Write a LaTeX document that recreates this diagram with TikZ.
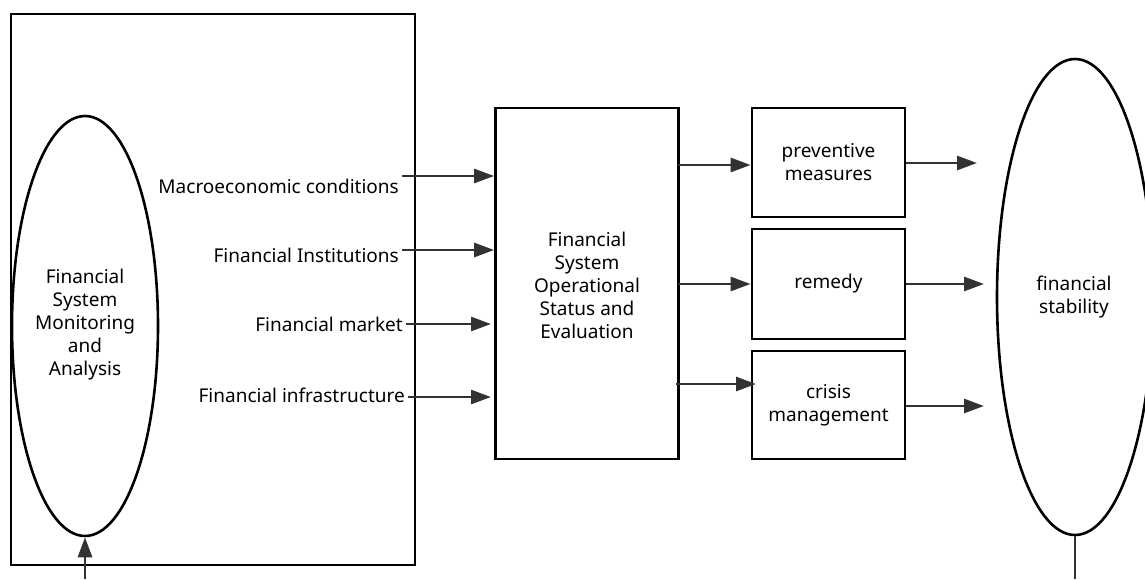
\documentclass[tikz,border=0pt]{standalone}
\usepackage{fontspec}
\setmainfont{Noto Sans}
\usetikzlibrary{arrows.meta,shapes.geometric}
\begin{document}
\begin{tikzpicture}[x=1pt,y=-1pt,
  txt/.style={font=\fontsize{19}{23}\selectfont,inner sep=0pt,align=center},
  box/.style={draw=black,line width=2.8pt,rectangle,inner sep=0pt},
  ell/.style={draw=black,line width=2.6pt,ellipse,inner sep=0pt},
  arr/.style={draw={rgb,255:red,50;green,50;blue,50},line width=2.8pt,
    -{Triangle[length=20pt,width=14pt]}},
  ln/.style={draw={rgb,255:red,50;green,50;blue,50},line width=2.8pt}]
\useasboundingbox (0,0) rectangle (1145,579);
\clip (0,0) rectangle (1145,579);
% big box
\node[box,minimum width=404pt,minimum height=551pt] (big) at (213,289.5) {};
% left ellipse
\node[ell,minimum width=146pt,minimum height=420pt] (lell) at (85,326) {};
\node[txt] (ltxt) at (85,325) {Financial\\System\\Monitoring\\and\\Analysis};
% middle box
\node[box,minimum width=183pt,minimum height=351pt] (mid) at (587,283.5) {};
\node[txt] (mtxt) at (587,285) {Financial\\System\\Operational\\Status and\\Evaluation};
% right boxes
\node[box,minimum width=153pt,minimum height=109pt] (b1) at (828.5,162.5) {};
\node[txt] at (828.5,162) {preventive\\measures};
\node[box,minimum width=153pt,minimum height=110pt] (b2) at (828.5,284) {};
\node[txt] at (828.5,284) {remedy};
\node[box,minimum width=153pt,minimum height=108pt] (b3) at (828.5,405) {};
\node[txt] at (828.5,405) {crisis\\management};
% right ellipse
\node[ell,minimum width=156pt,minimum height=476pt] (rell) at (1075,297) {};
\node[txt] (rtxt) at (1074,297) {financial\\stability};
% labels
\node[txt,anchor=east] (l1) at (399,186) {Macroeconomic conditions};
\node[txt,anchor=east] (l2) at (399,255) {Financial Institutions};
\node[txt,anchor=east] (l3) at (403,324) {Financial market};
\node[txt,anchor=east] (l4) at (405,395) {Financial infrastructure};
\coordinate (s1) at (402,176);
\coordinate (s2) at (402,250);
\coordinate (s3) at (406,324);
\coordinate (s4) at (408,397);
\coordinate (e3) at (491,324);
\coordinate (e4) at (491,397);
\draw[arr] (s1) -- (s1 -| mid.west);
\draw[arr] (s2) -- (s2 -| mid.west);
\draw[arr] (s3) -- (e3);
\draw[arr] (s4) -- (e4);
% middle to right boxes
\coordinate (m1) at (678,165);
\coordinate (m2) at (678,284);
\coordinate (m3) at (676,384);
\coordinate (t3) at (756,384);
\draw[arr] (m1) -- (m1 -| b1.west);
\draw[arr] (m2) -- (m2 -| b2.west);
\draw[arr] (m3) -- (t3);
% right box to ellipse
\coordinate (r1) at (977,163);
\coordinate (r2) at (984,284);
\coordinate (r3) at (984,406);
\draw[arr] (b1.east |- r1) -- (r1);
\draw[arr] (b2.east) -- (r2);
\draw[arr] (b3.east |- r3) -- (r3);
% bottom
\coordinate (bl) at (85,579);
\coordinate (br) at (1075,579);
\draw[arr] (bl) -- (lell.south);
\draw[ln] (rell.south) -- (br);
\end{tikzpicture}
\end{document}
